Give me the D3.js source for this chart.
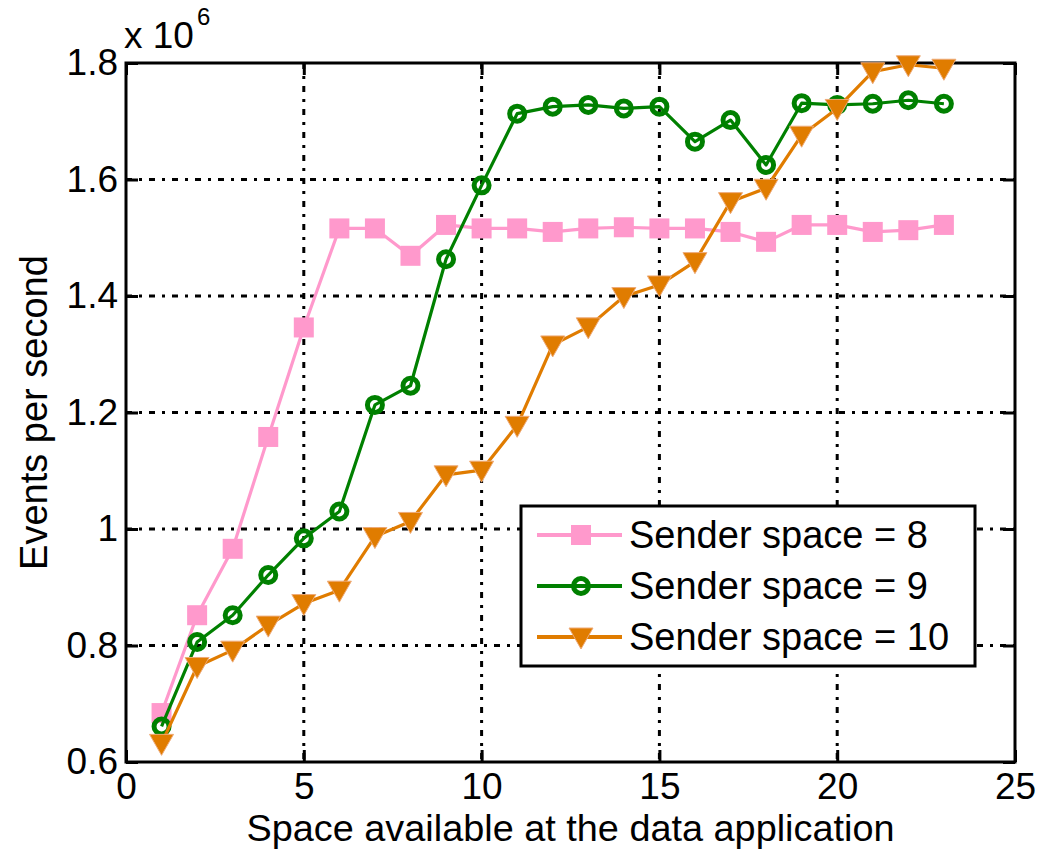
<!DOCTYPE html>
<html>
<head>
<meta charset="utf-8">
<script src="https://cdn.jsdelivr.net/npm/d3@7"></script>
<style>
  html, body { margin: 0; padding: 0; background: #fff; }
  svg { display: block; }
  text { font-family: "Liberation Sans", Arial, Helvetica, sans-serif; fill: #000; }
</style>
</head>
<body>
<svg id="chart" width="1038" height="850"></svg>
<script>
// ---- data ----
const spaceAvailable = [1,2,3,4,5,6,7,8,9,10,11,12,13,14,15,16,17,18,19,20,21,22,23];
const senderSpace8  = [0.684,0.852,0.966,1.158,1.346,1.516,1.516,1.469,1.522,1.516,1.516,1.510,1.516,1.518,1.516,1.516,1.510,1.493,1.522,1.522,1.510,1.513,1.522];
const senderSpace9  = [0.661,0.806,0.852,0.921,0.984,1.030,1.213,1.246,1.463,1.590,1.713,1.725,1.728,1.722,1.725,1.665,1.702,1.625,1.731,1.728,1.730,1.736,1.730];
const senderSpace10 = [0.632,0.764,0.792,0.835,0.872,0.895,0.987,1.013,1.093,1.101,1.178,1.316,1.347,1.399,1.419,1.459,1.562,1.585,1.676,1.722,1.785,1.797,1.791];
const seriesNames = ["Sender space = 8", "Sender space = 9", "Sender space = 10"];
const xTicks = [0,5,10,15,20,25];
const yTicks = [0.6,0.8,1.0,1.2,1.4,1.6,1.8];
const yTickLabels = ["0.6","0.8","1","1.2","1.4","1.6","1.8"];
const xLabel = "Space available at the data application";
const yLabel = "Events per second";

// ---- layout ----
const svg = d3.select("#chart");
const L = 126, R = 1015, T = 63, B = 762;
const x = d3.scaleLinear().domain([0,25]).range([L,R]);
const y = d3.scaleLinear().domain([0.6,1.8]).range([B,T]);

const colors = ["#ff99cc", "#008000", "#e07c00"];
const dash = "6,7,3,7";

// grid
const grid = svg.append("g");
grid.selectAll("line.vg").data(xTicks.filter(d => d > 0 && d < 25)).enter().append("line")
  .attr("x1", d => x(d)).attr("x2", d => x(d)).attr("y1", T).attr("y2", B)
  .attr("stroke", "#000").attr("stroke-width", 3).attr("stroke-dasharray", dash);
grid.selectAll("line.hg").data(yTicks.filter(d => d > 0.6 && d < 1.8)).enter().append("line")
  .attr("y1", d => y(d)).attr("y2", d => y(d)).attr("x1", L).attr("x2", R)
  .attr("stroke", "#000").attr("stroke-width", 3).attr("stroke-dasharray", dash);

// axes
const tk = 12;
function styleAxis(g) {
  g.select(".domain").remove();
  g.selectAll(".tick line").attr("stroke", "#000").attr("stroke-width", 3);
  g.selectAll(".tick text").attr("font-size", 37).attr("fill", "#000")
    .style("font-family", '"Liberation Sans", Arial, sans-serif');
}
svg.append("g").attr("transform", `translate(0,${B})`)
  .call(d3.axisBottom(x).tickValues(xTicks).tickFormat(d3.format("d")).tickSize(-tk).tickPadding(11))
  .call(styleAxis);
svg.append("g").attr("transform", `translate(0,${T})`)
  .call(d3.axisTop(x).tickValues(xTicks).tickFormat("").tickSize(-tk))
  .call(styleAxis);
svg.append("g").attr("transform", `translate(${L},0)`)
  .call(d3.axisLeft(y).tickValues(yTicks).tickFormat((d,i) => yTickLabels[i]).tickSize(-tk).tickPadding(8))
  .call(styleAxis);
svg.append("g").attr("transform", `translate(${R},0)`)
  .call(d3.axisRight(y).tickValues(yTicks).tickFormat("").tickSize(-tk))
  .call(styleAxis);

// frame
svg.append("rect").attr("x", L).attr("y", T).attr("width", R - L).attr("height", B - T)
  .attr("fill", "none").attr("stroke", "#000").attr("stroke-width", 3);

// exponent label
svg.append("text").attr("x", 124).attr("y", 48).attr("font-size", 37).text("x 10");
svg.append("text").attr("x", 197).attr("y", 25).attr("font-size", 24).text("6");

// axis labels
svg.append("text").attr("x", (L + R) / 2).attr("y", 841).attr("text-anchor", "middle")
  .attr("font-size", 37).attr("textLength", 648).attr("lengthAdjust", "spacingAndGlyphs").text(xLabel);
svg.append("text").attr("transform", `translate(47,${(T + B) / 2}) rotate(-90)`)
  .attr("text-anchor", "middle").attr("font-size", 38).text(yLabel);

// markers
function drawMarker(g, kind, cx, cy) {
  if (kind === 0) {
    g.append("rect").attr("x", cx - 10).attr("y", cy - 10).attr("width", 20).attr("height", 20)
      .attr("fill", colors[0]);
  } else if (kind === 1) {
    g.append("circle").attr("cx", cx).attr("cy", cy).attr("r", 7.5)
      .attr("fill", "none").attr("stroke", colors[1]).attr("stroke-width", 5);
  } else {
    g.append("path").attr("d", `M${cx - 12},${cy - 9}L${cx + 12},${cy - 9}L${cx},${cy + 12}Z`)
      .attr("fill", colors[2]).attr("stroke", "#eeaa77").attr("stroke-width", 1);
  }
}

const allSeries = [senderSpace8, senderSpace9, senderSpace10];
const line = d3.line().x(d => x(d[0])).y(d => y(d[1]));
allSeries.forEach((vals, si) => {
  const pts = spaceAvailable.map((xv, i) => [xv, vals[i]]);
  const g = svg.append("g");
  g.append("path").datum(pts).attr("d", line).attr("fill", "none")
    .attr("stroke", colors[si]).attr("stroke-width", 3.2).attr("stroke-linejoin", "round");
  pts.forEach(p => drawMarker(g, si, x(p[0]), y(p[1])));
});

// legend
const lg = svg.append("g");
lg.append("rect").attr("x", 521).attr("y", 506).attr("width", 454).attr("height", 160)
  .attr("fill", "#fff").attr("stroke", "#000").attr("stroke-width", 3);
const rowY = [535, 586, 637];
seriesNames.forEach((name, i) => {
  lg.append("line").attr("x1", 537).attr("x2", 622).attr("y1", rowY[i]).attr("y2", rowY[i])
    .attr("stroke", colors[i]).attr("stroke-width", 4);
  drawMarker(lg, i, 581, rowY[i]);
  lg.append("text").attr("x", 629).attr("y", rowY[i] + 13).attr("font-size", 38).text(name);
});
</script>
</body>
</html>
